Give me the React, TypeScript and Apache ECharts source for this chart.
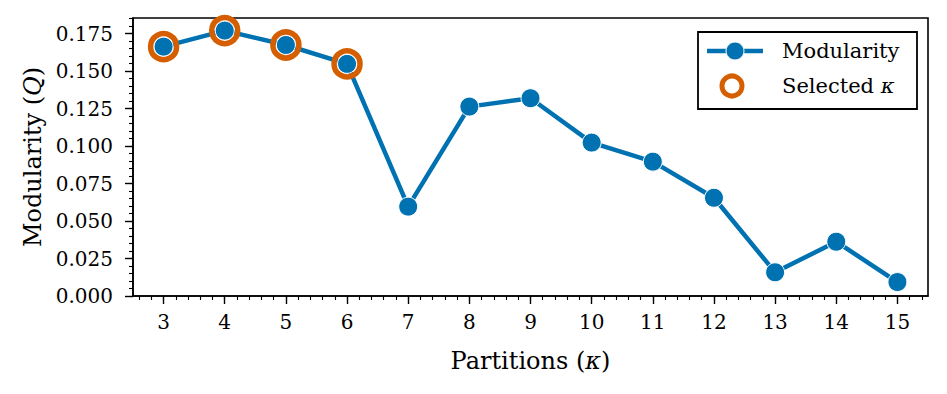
import React, { useEffect, useRef } from "react";
import * as echarts from "echarts";

const partitions = [3, 4, 5, 6, 7, 8, 9, 10, 11, 12, 13, 14, 15];
const modularity = [0.1663, 0.177, 0.1674, 0.1548, 0.0596, 0.1263, 0.1319, 0.1023, 0.0896, 0.0655, 0.0158, 0.0362, 0.0093];
const selectedPartitions = [3, 4, 5, 6];
const xTicks = [3, 4, 5, 6, 7, 8, 9, 10, 11, 12, 13, 14, 15];
const yTicks = [0, 0.025, 0.05, 0.075, 0.1, 0.125, 0.15, 0.175];
const xRange = [2.5, 15.5];
const yRange = [0, 0.1854];

const xMinorTicks: number[] = [];
for (let k = 13; k <= 77; k++) xMinorTicks.push(+(k * 0.2).toFixed(2));
const yMinorTicks: number[] = [];
for (let k = 0; k <= 37; k++) yMinorTicks.push(+(k * 0.005).toFixed(3));

const BLUE = "#0072B2";
const ORANGE = "#D55E00";
const FONT = "DejaVu Serif";

export default function App() {
  const ref = useRef<HTMLDivElement>(null);
  useEffect(() => {
    if (!ref.current) return;
    const chart = echarts.init(ref.current, undefined, { renderer: "svg" });
    const lineData = partitions.map((p, i) => [p, modularity[i]]);
    const selData = selectedPartitions.map((p) => [p, modularity[partitions.indexOf(p)]]);
    const axisBase = {
      type: "value" as const,
      splitLine: { show: false },
    };
    chart.setOption({
      animation: false,
      backgroundColor: "#fff",
      textStyle: { fontFamily: FONT, color: "#000" },
      grid: {
        left: 133,
        top: 18,
        width: 795,
        height: 278,
        show: true,
        borderColor: "#000",
        borderWidth: 1.6,
        backgroundColor: "transparent",
      },
      xAxis: [
        {
          ...axisBase,
          min: xRange[0],
          max: xRange[1],
          position: "bottom",
          axisLine: { show: true, lineStyle: { color: "#000", width: 1.6 } },
          axisTick: { show: true, length: 8, customValues: xTicks, lineStyle: { color: "#000", width: 1.4 } },
          axisLabel: {
            show: true,
            customValues: xTicks,
            margin: 16,
            fontSize: 20,
            fontFamily: FONT,
            color: "#000",
          },
          name: "Partitions ({i|κ})",
          nameLocation: "middle",
          nameGap: 53,
          nameTextStyle: {
            fontSize: 24,
            fontFamily: FONT,
            color: "#000",
            rich: { i: { fontStyle: "italic", fontSize: 24, fontFamily: FONT, color: "#000" } },
          },
        },
        {
          ...axisBase,
          min: xRange[0],
          max: xRange[1],
          position: "bottom",
          axisLine: { show: false },
          axisTick: { show: true, length: 4, customValues: xMinorTicks, lineStyle: { color: "#000", width: 1.1 } },
          axisLabel: { show: false },
        },
      ],
      yAxis: [
        {
          ...axisBase,
          min: yRange[0],
          max: yRange[1],
          position: "left",
          axisLine: { show: true, lineStyle: { color: "#000", width: 1.6 } },
          axisTick: { show: true, length: 8, customValues: yTicks, lineStyle: { color: "#000", width: 1.4 } },
          axisLabel: {
            show: true,
            customValues: yTicks,
            margin: 20,
            fontSize: 20,
            fontFamily: FONT,
            color: "#000",
            formatter: (v: number) => v.toFixed(3),
          },
          name: "Modularity ({i|Q})",
          nameLocation: "middle",
          nameRotate: 90,
          nameGap: 87,
          nameTextStyle: {
            fontSize: 24,
            fontFamily: FONT,
            color: "#000",
            rich: { i: { fontStyle: "italic", fontSize: 24, fontFamily: FONT, color: "#000" } },
          },
        },
        {
          ...axisBase,
          min: yRange[0],
          max: yRange[1],
          position: "left",
          axisLine: { show: false },
          axisTick: { show: true, length: 4, customValues: yMinorTicks, lineStyle: { color: "#000", width: 1.1 } },
          axisLabel: { show: false },
        },
      ],
      series: [
        {
          name: "Modularity",
          type: "line",
          data: lineData,
          xAxisIndex: 0,
          yAxisIndex: 0,
          lineStyle: { color: BLUE, width: 4.5 },
          symbol: "circle",
          symbolSize: 19,
          showAllSymbol: true,
          itemStyle: { color: BLUE, borderColor: "#fff", borderWidth: 1 },
          z: 2,
        },
        {
          name: "Selected κ",
          type: "scatter",
          data: selData,
          xAxisIndex: 0,
          yAxisIndex: 0,
          symbol: "circle",
          symbolSize: 26,
          itemStyle: { color: "rgba(0,0,0,0)", borderColor: ORANGE, borderWidth: 5.5, opacity: 1 },
          z: 3,
        },
      ],
      graphic: [
        {
          type: "group",
          z: 10,
          children: [
            {
              type: "rect",
              shape: { x: 698, y: 32, width: 219, height: 77 },
              style: { fill: "#fff", stroke: "#000", lineWidth: 1.8 },
            },
            {
              type: "line",
              shape: { x1: 707, y1: 51, x2: 763, y2: 51 },
              style: { stroke: BLUE, lineWidth: 4.5 },
            },
            {
              type: "circle",
              shape: { cx: 735, cy: 51, r: 9 },
              style: { fill: BLUE, stroke: "#fff", lineWidth: 1 },
            },
            {
              type: "circle",
              shape: { cx: 732, cy: 86, r: 10 },
              style: { fill: "none", stroke: ORANGE, lineWidth: 5 },
            },
            {
              type: "text",
              x: 782,
              y: 51,
              style: {
                text: "Modularity",
                fontSize: 21,
                fontFamily: FONT,
                fill: "#000",
                verticalAlign: "middle",
              },
            },
            {
              type: "text",
              x: 782,
              y: 86,
              style: {
                text: "Selected {i|κ}",
                fontSize: 21,
                fontFamily: FONT,
                fill: "#000",
                verticalAlign: "middle",
                rich: { i: { fontStyle: "italic", fontSize: 21, fontFamily: FONT, fill: "#000" } },
              },
            },
          ],
        },
      ],
    });
    return () => chart.dispose();
  }, []);
  return (
    <div
      ref={ref}
      style={{ position: "absolute", left: 0, top: 0, width: 947, height: 394, background: "#fff" }}
    />
  );
}
